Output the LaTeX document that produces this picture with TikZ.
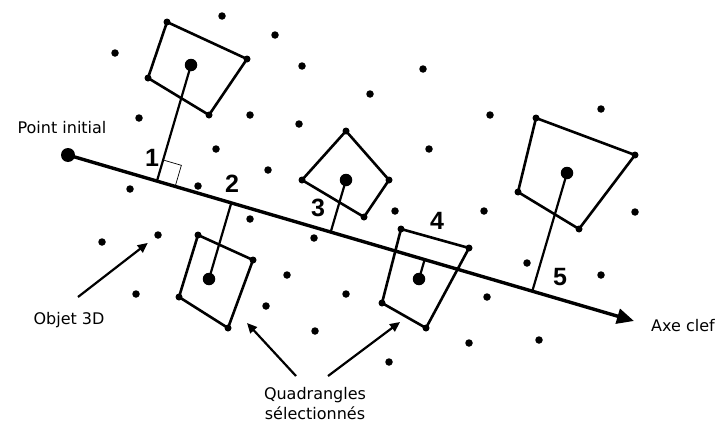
\documentclass[tikz,border=0pt]{standalone}
\usepackage{fontspec}
\setmainfont{DejaVu Sans}
\newfontfamily\numfont{Liberation Sans}
\usetikzlibrary{calc,arrows.meta,positioning}
\tikzset{
  pt/.style      = {circle, fill=black, inner sep=0pt, minimum size=7.5pt},
  corner/.style  = {circle, fill=black, inner sep=0pt, minimum size=7pt},
  centre/.style  = {circle, fill=black, inner sep=0pt, minimum size=12.5pt},
  quad/.style    = {line width=2.6pt, line join=round},
  perp/.style    = {line width=2.2pt},
  axe/.style     = {line width=3.4pt, -{Triangle[length=17pt,width=15pt]}},
  callout/.style = {line width=2.2pt, -{Triangle[length=10pt,width=9pt]}},
  num/.style     = {font=\numfont\bfseries\fontsize{25}{25}\selectfont, inner sep=0pt},
  lab/.style     = {font=\fontsize{16}{20}\selectfont, inner sep=0pt, align=center},
}

\begin{document}
\begin{tikzpicture}[x=1pt, y=-1pt]
\useasboundingbox (0,0) rectangle (718,423);

% objets 3D
\foreach \x/\y [count=\i] in {222/16, 275/35, 115/53, 302/66, 139/118, 250/115,
    299/124, 216/149, 268/170, 130/189, 198/186, 423/69, 370/94, 490/115,
    601/109, 429/149, 395/211, 484/211, 635/212, 250/219, 314/238, 287/275,
    527/263, 601/275, 487/297, 469/343, 539/340, 389/362, 102/242, 158/235,
    136/294, 346/294, 266/306, 315/331}
  \node[pt] (d\i) at (\x,\y) {};

% axe clef
\node[centre, minimum size=14pt] (start) at (68,155) {};
\coordinate (tip) at (634,321);
\draw[axe] (start.center) -- (tip);

% quadrangle 1
\node[corner] (q1a) at (167,22) {};
\node[corner] (q1b) at (247,59) {};
\node[corner] (q1c) at (209,115) {};
\node[corner] (q1d) at (148,78) {};
\draw[quad] (q1a.center) -- (q1b.center) -- (q1c.center) -- (q1d.center) -- cycle;
\node[centre] (c1) at (191,65) {};
\coordinate (f1) at ($(start)!(c1)!(tip)$);
\draw[perp] (c1.center) -- (f1);
\coordinate (r1) at ($(f1)!19pt!(tip)$);
\coordinate (r2) at ($(f1)!22pt!(c1)$);
\draw[line width=0.7pt] (r1) -- ($(r1)+(r2)-(f1)$) -- (r2);

% quadrangle 2
\node[corner] (q2a) at (198,235) {};
\node[corner] (q2b) at (253,260) {};
\node[corner] (q2c) at (228,328) {};
\node[corner] (q2d) at (179,297) {};
\draw[quad] (q2a.center) -- (q2b.center) -- (q2c.center) -- (q2d.center) -- cycle;
\node[centre] (c2) at (209,279) {};
\coordinate (f2) at ($(start)!(c2)!(tip)$);
\draw[perp] (c2.center) -- (f2);

% quadrangle 3
\node[corner] (q3a) at (346,131) {};
\node[corner] (q3b) at (389,180) {};
\node[corner] (q3c) at (364,217) {};
\node[corner] (q3d) at (302,180) {};
\draw[quad] (q3a.center) -- (q3b.center) -- (q3c.center) -- (q3d.center) -- cycle;
\node[centre] (c3) at (346,180) {};
\coordinate (f3) at ($(start)!(c3)!(tip)$);
\draw[perp] (c3.center) -- (f3);

% quadrangle 4
\node[corner] (q4a) at (401,229) {};
\node[corner] (q4b) at (469,248) {};
\node[corner] (q4c) at (426,328) {};
\node[corner] (q4d) at (382,303) {};
\draw[quad] (q4a.center) -- (q4b.center) -- (q4c.center) -- (q4d.center) -- cycle;
\node[centre] (c4) at (419,279) {};
\coordinate (f4) at ($(start)!(c4)!(tip)$);
\draw[perp] (c4.center) -- (f4);

% quadrangle 5
\node[corner] (q5a) at (536,118) {};
\node[corner] (q5b) at (635,155) {};
\node[corner] (q5c) at (579,229) {};
\node[corner] (q5d) at (518,192) {};
\draw[quad] (q5a.center) -- (q5b.center) -- (q5c.center) -- (q5d.center) -- cycle;
\node[centre] (c5) at (567,173) {};
\coordinate (f5) at ($(start)!(c5)!(tip)$);
\draw[perp] (c5.center) -- (f5);

% numeros
\node[num] (n1) at (152,158) {1};
\node[num] (n2) at (232,184) {2};
\node[num] (n3) at (318,208) {3};
\node[num] (n4) at (437,221) {4};
\node[num] (n5) at (560,277) {5};

% textes
\node[lab] (init)  at (62,128)  {Point initial};
\node[lab] (clef)  at (683,326) {Axe clef};
\node[lab] (objet) at (69,320)  {Objet 3D};
\node[lab] (quads) at (315,404) {Quadrangles\\sélectionnés};

\coordinate (o1) at (78,297);
\coordinate (qa) at (296,376);
\coordinate (qb) at (328,376);
\coordinate (ta) at (247,323);
\coordinate (tb) at (400,322);
\draw[callout] (o1) -- (d30) [shorten >=9pt];
\draw[callout] (qa) -- (ta);
\draw[callout] (qb) -- (tb);
\end{tikzpicture}
\end{document}
